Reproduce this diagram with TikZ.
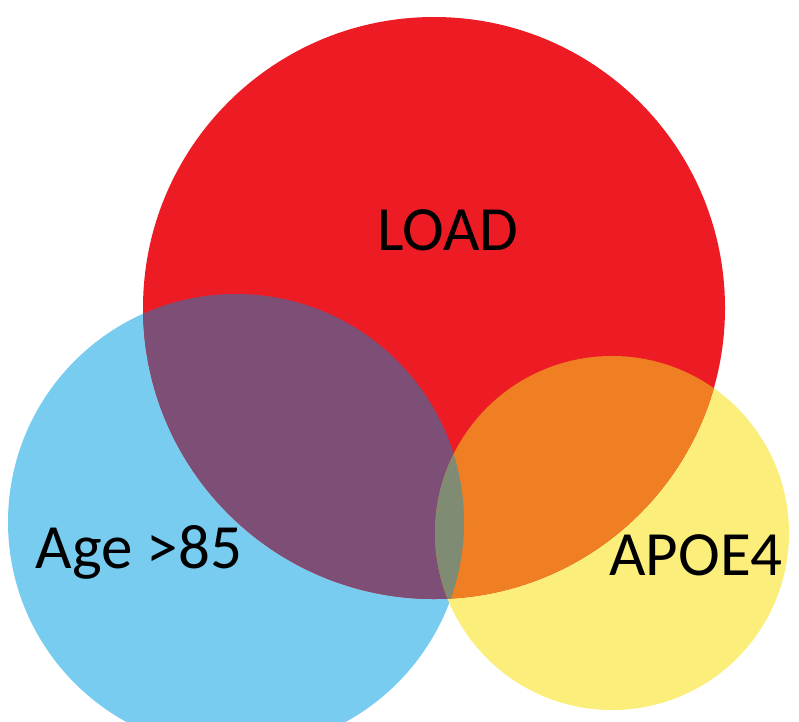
\documentclass[tikz,border=0pt]{standalone}
\usepackage{fontspec}
\setmainfont{Carlito}
\definecolor{loadred}{HTML}{ED1C24}
\definecolor{agecyan}{HTML}{78CCF0}
\definecolor{apoeyellow}{HTML}{FBEE7B}
\definecolor{agepurple}{HTML}{7D4E76}
\definecolor{apoeorange}{HTML}{F07E23}
\definecolor{allgrey}{HTML}{7F8B72}

\begin{document}
\begin{tikzpicture}[x=1pt,y=-1pt,
    setlabel/.style={anchor=base,font=\fontsize{63}{70}\selectfont,text=black}]
        \useasboundingbox (0,0) rectangle (799,721);
        \coordinate (L) at (434,308);
        \coordinate (G) at (236,522);
        \coordinate (E) at (612,533);

        \fill[agecyan]    (G) circle (228pt);
        \fill[apoeyellow] (E) circle (177pt);
        \fill[loadred]    (L) circle (291pt);

        \begin{scope}
            \clip (L) circle (291pt);
            \fill[agepurple]  (G) circle (228pt);
            \fill[apoeorange] (E) circle (177pt);
            \clip (G) circle (228pt);
            \fill[allgrey]    (E) circle (177pt);
        \end{scope}

        \node[setlabel] (load) at (448,250) {LOAD};
        \node[setlabel] (age)  at (139,568) {Age >85};
        \node[setlabel] (apoe) at (696,575) {APOE4};
    \end{tikzpicture}
\end{document}
